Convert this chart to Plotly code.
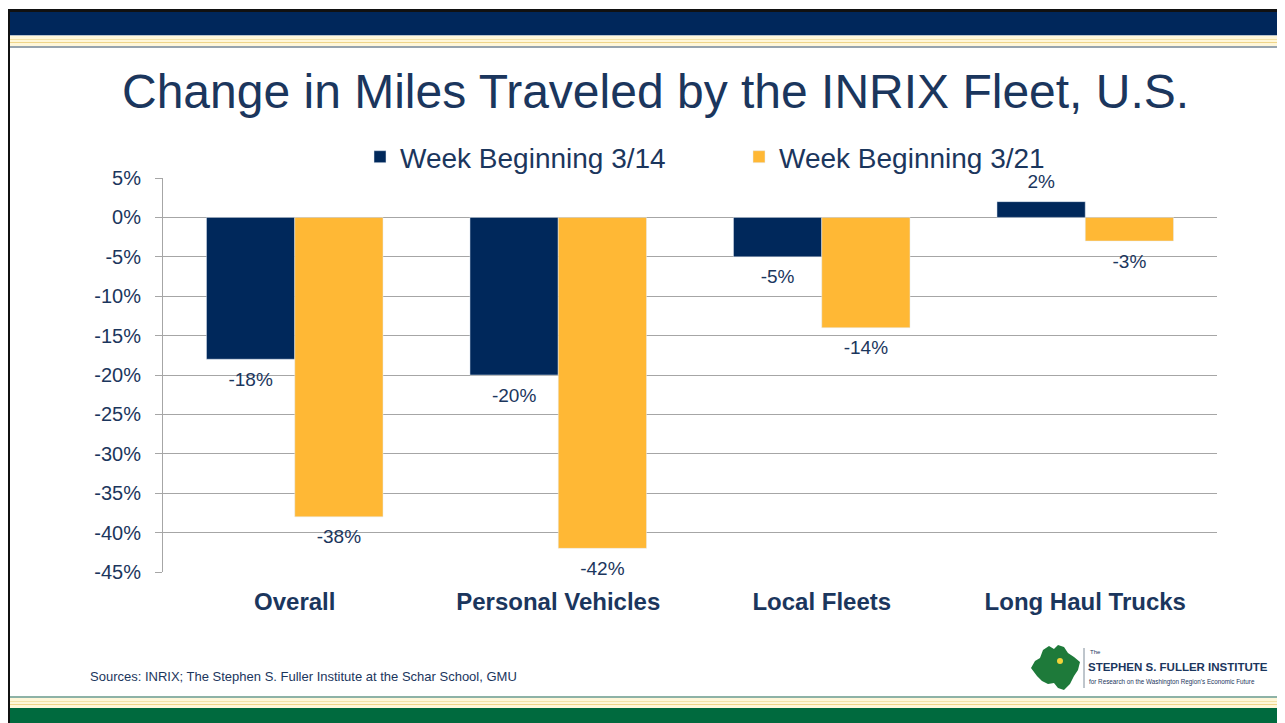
import plotly.graph_objects as go

categories = ["Overall", "Personal Vehicles", "Local Fleets", "Long Haul Trucks"]
week_314 = [-18, -20, -5, 2]
week_321 = [-38, -42, -14, -3]
series_names = ["Week Beginning 3/14", "Week Beginning 3/21"]
y_ticks = [5, 0, -5, -10, -15, -20, -25, -30, -35, -40, -45]

NAVY = "#00285B"
GOLD = "#FFB835"
TXT = "#1B365D"
OFF = 8                      # page body margin
SW, SH = 1285, 723           # screen size
W, H = SW - OFF, SH - OFF    # figure size
L, R, T, B = 163, 1217, 178, 572   # plot area in screen pixels

def px(x):
    return (x - L) / (R - L)

def py(y):
    return (B - y) / (B - T)

fig = go.Figure()
for name, vals, col, grp in [(series_names[0], week_314, NAVY, "a"),
                             (series_names[1], week_321, GOLD, "b")]:
    fig.add_trace(go.Bar(x=categories, y=vals, name=name, marker_color=col,
                         offsetgroup=grp, alignmentgroup="g", hoverinfo="skip"))
for vals, grp in [(week_314, "a"), (week_321, "b")]:
    fig.add_trace(go.Scatter(
        x=categories, y=vals, mode="markers+text", orientation="v",
        offsetgroup=grp, alignmentgroup="g",
        marker=dict(size=[18 if v < 0 else 12 for v in vals], color="rgba(0,0,0,0)",
                    line=dict(width=0, color="rgba(0,0,0,0)")),
        text=[f"{v}%" for v in vals],
        textposition=["top center" if v > 0 else "bottom center" for v in vals],
        textfont=dict(size=19, color=TXT), cliponaxis=False,
        showlegend=False, hoverinfo="skip",
    ))

shapes = []
def rect(x0, y0, x1, y1, color):
    shapes.append(dict(type="rect", xref="paper", yref="paper",
                       x0=px(x0), x1=px(x1), y0=py(y1), y1=py(y0),
                       fillcolor=color, line=dict(width=0), layer="below"))

# top band
rect(8, 9, SW, 12, "#111111")
rect(8, 12, SW, 35, "#00275B")
rect(8, 35, SW, 36, "#B9C3CC")
rect(8, 36, SW, 46, "#FFF7D9")
rect(8, 39, SW, 40, "#F3E2A8")
rect(8, 42, SW, 43, "#EFD58A")
rect(8, 46, SW, 48, "#97A4AE")
# left border
rect(8, 9, 10, SH, "#111111")
# bottom band
rect(10, 696, SW, 698, "#8DB2A6")
rect(10, 698, SW, 708, "#FFF7D9")
rect(10, 701, SW, 702, "#F3E2A8")
rect(10, 704, SW, 705, "#EFD58A")
rect(10, 708, SW, SH, "#006A3E")

# logo: green region shape
pts = [(1031, 668), (1035, 661), (1040, 658), (1043, 650), (1049, 646), (1054, 649),
       (1058, 645), (1064, 647), (1068, 653), (1074, 657), (1080, 662), (1078, 670),
       (1074, 676), (1070, 684), (1064, 690), (1058, 688), (1054, 683), (1048, 684),
       (1042, 681), (1037, 676)]
path = "M " + " L ".join(f"{px(a):.5f},{py(b):.5f}" for a, b in pts) + " Z"
shapes.append(dict(type="path", xref="paper", yref="paper", path=path,
                   fillcolor="#1E7A3A", line=dict(width=0)))
shapes.append(dict(type="circle", xref="paper", yref="paper",
                   x0=px(1057), x1=px(1063), y0=py(664), y1=py(658),
                   fillcolor="#F2D33A", line=dict(width=0)))
shapes.append(dict(type="line", xref="paper", yref="paper",
                   x0=px(1084), x1=px(1084), y0=py(688), y1=py(648),
                   line=dict(color="#7F8C99", width=1)))

FONT = "Liberation Sans, Arial, sans-serif"
annotations = [
    dict(text="Change in Miles Traveled by the INRIX Fleet, U.S.", xref="paper", yref="paper",
         x=px(655), y=py(92), xanchor="center", yanchor="middle", showarrow=False,
         font=dict(size=48, color=TXT, family=FONT)),
    dict(text="Sources: INRIX; The Stephen S. Fuller Institute at the Schar School, GMU",
         xref="paper", yref="paper", x=px(88), y=py(676), xanchor="left", yanchor="middle",
         showarrow=False, font=dict(size=13, color=TXT, family=FONT)),
    dict(text="The", xref="paper", yref="paper", x=px(1088), y=py(652), xanchor="left",
         yanchor="middle", showarrow=False, font=dict(size=6, color=TXT, family=FONT)),
    dict(text="<b>STEPHEN S. FULLER INSTITUTE</b>", xref="paper", yref="paper", x=px(1086), y=py(667),
         xanchor="left", yanchor="middle", showarrow=False,
         font=dict(size=11.5, color=TXT, family=FONT)),
    dict(text="for Research on the Washington Region's Economic Future", xref="paper", yref="paper",
         x=px(1087), y=py(682), xanchor="left", yanchor="middle", showarrow=False,
         font=dict(size=6.3, color=TXT, family=FONT)),
]

fig.update_layout(
    width=W, height=H,
    margin=dict(l=L - OFF, r=SW - R, t=T - OFF, b=SH - B, pad=0),
    paper_bgcolor="white", plot_bgcolor="white",
    barmode="group", bargap=0.33, bargroupgap=0,
    scattermode="group", scattergap=0.33,
    font=dict(family=FONT, color=TXT),
    showlegend=True,
    legend=dict(orientation="h", x=px(360), y=py(157), xanchor="left", yanchor="middle",
                font=dict(size=28, color=TXT), entrywidth=334, entrywidthmode="pixels",
                bgcolor="rgba(0,0,0,0)", itemclick=False),
    shapes=shapes, annotations=annotations,
    xaxis=dict(showgrid=False, showline=False, ticks="",
               tickfont=dict(size=24, color=TXT, family=FONT),
               tickprefix="<b>", ticksuffix="</b>", ticklabelstandoff=13),
    yaxis=dict(range=[-45, 5], tickvals=y_ticks, ticktext=[f"{v}%" for v in y_ticks],
               showgrid=True, gridcolor="#A6A6A6", gridwidth=1,
               showline=True, linecolor="#A6A6A6", linewidth=1,
               ticks="outside", ticklen=7, tickcolor="#A6A6A6", ticklabelstandoff=10,
               zeroline=False, tickfont=dict(size=20, color=TXT), fixedrange=True),
)

fig.write_html("out.html")
